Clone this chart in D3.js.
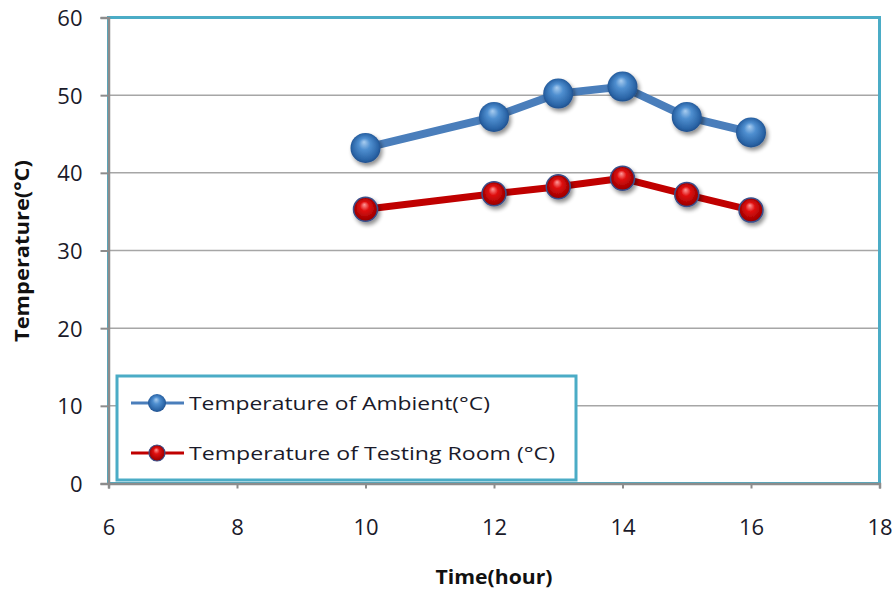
<!DOCTYPE html>
<html><head><meta charset="utf-8">
<script src="https://cdn.jsdelivr.net/npm/d3@7"></script>
<style>body{margin:0;background:#fff}svg{display:block}</style>
</head><body>
<svg id="c" width="896" height="593"></svg>
<script>
const hours = [10, 12, 13, 14, 15, 16];
const ambient = [43.2, 47.2, 50.2, 51.1, 47.2, 45.2];
const testingRoom = [35.3, 37.3, 38.2, 39.3, 37.2, 35.2];
const seriesNames = ["Temperature of Ambient(°C)", "Temperature of Testing  Room (°C)"];
const xTicks = [6, 8, 10, 12, 14, 16, 18];
const yTicks = [0, 10, 20, 30, 40, 50, 60];

const svg = d3.select("#c");
const font = "'Open Sans', sans-serif";
const L = 108.5, R = 879.5, T = 17.5, B = 483.5;
const x = d3.scaleLinear().domain([6, 18]).range([L, R]);
const y = d3.scaleLinear().domain([0, 60]).range([B, T]);

const defs = svg.append("defs");
const gB = defs.append("radialGradient").attr("id", "gb").attr("cx", "50%").attr("cy", "50%").attr("r", "55%").attr("fx", "45%").attr("fy", "30%");
gB.append("stop").attr("offset", "0%").attr("stop-color", "#a9cdf0");
gB.append("stop").attr("offset", "35%").attr("stop-color", "#4f8fd0");
gB.append("stop").attr("offset", "80%").attr("stop-color", "#2a64a6");
gB.append("stop").attr("offset", "100%").attr("stop-color", "#1b4580");
const gR = defs.append("radialGradient").attr("id", "gr").attr("cx", "50%").attr("cy", "50%").attr("r", "55%").attr("fx", "45%").attr("fy", "30%");
gR.append("stop").attr("offset", "0%").attr("stop-color", "#ff9a9a");
gR.append("stop").attr("offset", "35%").attr("stop-color", "#e01010");
gR.append("stop").attr("offset", "85%").attr("stop-color", "#a00000");
gR.append("stop").attr("offset", "100%").attr("stop-color", "#6a0000");
const sh = defs.append("filter").attr("id", "sh").attr("x", "-50%").attr("y", "-50%").attr("width", "200%").attr("height", "200%");
sh.append("feGaussianBlur").attr("in", "SourceAlpha").attr("stdDeviation", 2.2);
sh.append("feOffset").attr("dx", 2).attr("dy", 3).attr("result", "o");
sh.append("feComponentTransfer").append("feFuncA").attr("type", "linear").attr("slope", 0.45);
const m = sh.append("feMerge"); m.append("feMergeNode"); m.append("feMergeNode").attr("in", "SourceGraphic");

// gridlines
svg.append("g").selectAll("line").data(yTicks.filter(d => d > 0)).join("line")
  .attr("x1", L).attr("x2", R).attr("y1", d => y(d)).attr("y2", d => y(d))
  .attr("stroke", "#a6a6a6").attr("stroke-width", 1.5);

// plot border (teal)
svg.append("rect").attr("x", L).attr("y", T).attr("width", R - L).attr("height", B - T)
  .attr("fill", "none").attr("stroke", "#4bacc6").attr("stroke-width", 3);

// axes
const yAxis = svg.append("g").attr("transform", `translate(${L},0)`)
  .call(d3.axisLeft(y).tickValues(yTicks).tickSize(8).tickPadding(18));
const xAxis = svg.append("g").attr("transform", `translate(0,${B})`)
  .call(d3.axisBottom(x).tickValues(xTicks).tickSize(5).tickPadding(30));
[yAxis, xAxis].forEach(a => {
  a.attr("font-size", null).attr("font-family", null);
  a.select(".domain").attr("stroke", "#8c8c8c").attr("stroke-width", 2.5);
  a.selectAll(".tick line").attr("stroke", "#8c8c8c").attr("stroke-width", 2);
  a.selectAll(".tick text").style("font-family", font).style("font-size", "22px").attr("fill", "#1a1a2a");
});
yAxis.selectAll(".tick text").attr("x", -26).attr("dy", "0.36em");
xAxis.selectAll(".tick text").attr("y", 51.5).attr("dy", 0);

// titles
svg.append("text").attr("transform", "translate(22,251) rotate(-90)").attr("text-anchor", "middle")
  .attr("dominant-baseline", "central")
  .style("font-family", font).style("font-weight", "bold").style("font-size", "19px").attr("fill", "#111")
  .attr("textLength", 182).attr("lengthAdjust", "spacingAndGlyphs")
  .text("Temperature(°C)");
svg.append("text").attr("x", 494).attr("y", 584).attr("text-anchor", "middle")
  .style("font-family", font).style("font-weight", "bold").style("font-size", "19px").attr("fill", "#111")
  .attr("textLength", 117).attr("lengthAdjust", "spacingAndGlyphs")
  .text("Time(hour)");

// series
const series = [
  {vals: ambient, color: "#4a7ebb", w: 8, r: 15, grad: "url(#gb)", stroke: "none"},
  {vals: testingRoom, color: "#c00000", w: 7, r: 12, grad: "url(#gr)", stroke: "#3a4f8a"}
];
const line = d3.line().x(d => x(d[0])).y(d => y(d[1]));
series.forEach(s => {
  const pts = hours.map((h, i) => [h, s.vals[i]]);
  svg.append("path").datum(pts).attr("d", line).attr("fill", "none")
    .attr("stroke", s.color).attr("stroke-width", s.w).attr("stroke-linejoin", "round");
  svg.append("g").selectAll("circle").data(pts).join("circle")
    .attr("cx", d => x(d[0])).attr("cy", d => y(d[1])).attr("r", s.r)
    .attr("fill", s.grad).attr("stroke", s.stroke).attr("stroke-width", 1.5).attr("filter", "url(#sh)");
});

// legend
const lg = svg.append("g");
lg.append("rect").attr("x", 117).attr("y", 376).attr("width", 459).attr("height", 104)
  .attr("fill", "#fff").attr("stroke", "#4bacc6").attr("stroke-width", 3);
const ly = [403, 453];
series.forEach((s, i) => {
  lg.append("line").attr("x1", 131).attr("x2", 184).attr("y1", ly[i]).attr("y2", ly[i])
    .attr("stroke", s.color).attr("stroke-width", 3);
  lg.append("circle").attr("cx", 157).attr("cy", ly[i]).attr("r", i === 0 ? 9 : 8)
    .attr("fill", s.grad).attr("stroke", i === 0 ? "none" : "#3a4f8a").attr("stroke-width", 1.2);
  lg.append("text").attr("x", 189).attr("y", ly[i]).attr("dy", "0.35em")
    .style("font-family", font).style("font-size", "19px").attr("fill", "#1a1a2a")
    .attr("textLength", i === 0 ? 301 : 366).attr("lengthAdjust", "spacingAndGlyphs")
    .text(seriesNames[i]);
});
</script>
</body></html>
